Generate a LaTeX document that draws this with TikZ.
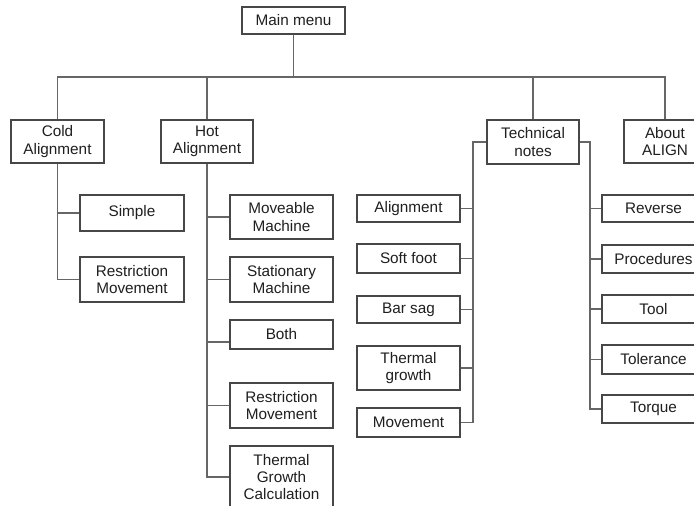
\documentclass[tikz,border=0pt]{standalone}
\usepackage{fontspec}
\setmainfont{Liberation Sans}
\begin{document}
\begin{tikzpicture}[x=1pt,y=-1pt,
  box/.style={draw=black!72,line width=1.2pt,fill=white,text=black!88,align=center,inner sep=0pt,
    font=\fontsize{15.3}{17.3}\selectfont},
  link/.style={draw=black!60,line width=1.2pt}]
\useasboundingbox (0,0) rectangle (694,506);
\clip (0,0) rectangle (694,506);
% top level
\node[box,minimum width=103,minimum height=27] (main) at (293.5,20.5) {Main menu};
\node[box,minimum width=93,minimum height=43] (cold) at (57.5,141.5) {Cold\\Alignment};
\node[box,minimum width=92,minimum height=43] (hot) at (207,141.5) {Hot\\Alignment};
\node[box,minimum width=92,minimum height=44] (tech) at (533,142) {Technical\\notes};
\node[box,minimum width=82,minimum height=43] (about) at (665,141.5) {About\\ALIGN};
% cold
\node[box,minimum width=104,minimum height=36] (simple) at (132,213) {Simple};
\node[box,minimum width=104,minimum height=45] (crm) at (132,279.5) {Restriction\\Movement};
% hot
\node[box,minimum width=103,minimum height=44] (mm) at (281.5,217) {Moveable\\Machine};
\node[box,minimum width=103,minimum height=45] (sm) at (281.5,279.5) {Stationary\\Machine};
\node[box,minimum width=103,minimum height=29] (both) at (281.5,334.5) {Both};
\node[box,minimum width=103,minimum height=45] (hrm) at (281.5,405.5) {Restriction\\Movement};
\node[box,minimum width=103,minimum height=62] (tgc) at (281.5,477) {Thermal\\Growth\\Calculation};
% technical left
\node[box,minimum width=103,minimum height=27] (aln) at (408.5,208.5) {Alignment};
\node[box,minimum width=103,minimum height=29] (soft) at (408.5,258.5) {Soft foot};
\node[box,minimum width=103,minimum height=27] (bar) at (408.5,309.5) {Bar sag};
\node[box,minimum width=103,minimum height=44] (tg) at (408.5,368) {Thermal\\growth};
\node[box,minimum width=103,minimum height=29] (mov) at (408.5,422.5) {Movement};
% technical right
\node[box,minimum width=103,minimum height=27] (rev) at (653.5,208.5) {Reverse};
\node[box,minimum width=103,minimum height=28] (proc) at (653.5,259) {Procedures};
\node[box,minimum width=103,minimum height=28] (tool) at (653.5,309) {Tool};
\node[box,minimum width=103,minimum height=29] (tol) at (653.5,359.5) {Tolerance};
\node[box,minimum width=103,minimum height=28] (torq) at (653.5,409) {Torque};
% bus
\coordinate (bus) at (0,77);
\coordinate (tl) at (473,0);
\coordinate (tr) at (590,0);
\coordinate (bothc) at ([yshift=-7.5pt]both.west);
\path[link] (main.south) -- (main.south |- bus);
\path[link] (cold.north) |- (about.north |- bus) -- (about.north);
\path[link] (hot.north) -- (hot.north |- bus);
\path[link] (tech.north) -- (tech.north |- bus);
% cold links
\path[link] (cold.south) |- (crm.west);
\path[link] (simple.west) -- (simple.west -| cold.south);
% hot links
\path[link] (hot.south) |- (tgc.west);
\path[link] (mm.west) -- (mm.west -| hot.south);
\path[link] (sm.west) -- (sm.west -| hot.south);
\path[link] (bothc) -- (bothc -| hot.south);
\path[link] (hrm.west) -- (hrm.west -| hot.south);
% technical left
\path[link] (tech.west) -- (tech.west -| tl) |- (mov.east);
\path[link] (aln.east) -- (aln.east -| tl);
\path[link] (soft.east) -- (soft.east -| tl);
\path[link] (bar.east) -- (bar.east -| tl);
\path[link] (tg.east) -- (tg.east -| tl);
% technical right
\path[link] (tech.east) -- (tech.east -| tr) |- (torq.west);
\path[link] (rev.west) -- (rev.west -| tr);
\path[link] (proc.west) -- (proc.west -| tr);
\path[link] (tool.west) -- (tool.west -| tr);
\path[link] (tol.west) -- (tol.west -| tr);
\end{tikzpicture}
\end{document}
